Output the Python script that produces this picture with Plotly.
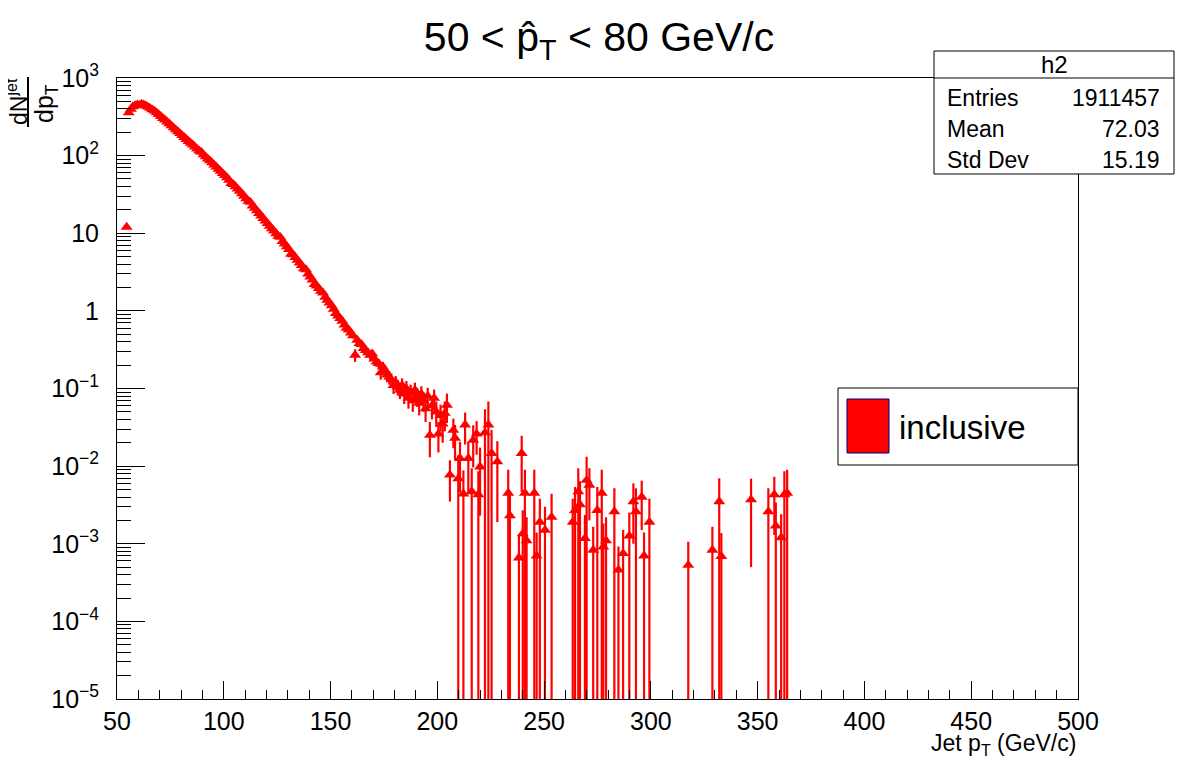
import plotly.graph_objects as go

# ---------------- data ----------------
BIN_LO = 50.0
BIN_W = 1.0

low_pt = [54.5]
low_val = [12.0]

core_first_bin = 5   # bin index of 55.5 GeV/c
core_val = [
    357, 398, 428, 441, 452, 447, 462, 451, 438, 424,        # 55.5-64.5
    409, 391, 376, 358, 339, 321, 303, 288, 272, 258,        # 65.5-74.5
    243, 229, 216, 204, 193, 182, 172, 162, 153, 145,        # 75.5-84.5
    138, 130, 122, 115, 111, 103, 97, 91, 86, 81,            # 85.5-94.5
    76, 71.5, 67, 63, 59, 55.5, 52, 48.5, 44.0, 42.5,        # 95.5-104.5
    40, 37.2, 34.8, 32.3, 30.1, 28.0, 26.0, 25.1, 22.6, 21.0,  # 105.5-114.5
    19.5, 18.1, 16.8, 15.6, 14.4, 13.4, 12.4, 11.5, 10.7, 9.9,  # 115.5-124.5
    9.2, 8.9, 7.85, 7.3, 6.75, 6.2, 5.4, 5.3, 4.9, 4.5,      # 125.5-134.5
    4.15, 3.85, 3.5, 3.4, 3.0, 2.75, 2.5, 2.2, 2.1, 1.95,    # 135.5-144.5
    1.8, 1.7, 1.5, 1.38, 1.27, 1.17,                          # 145.5-150.5
]

mid_first_bin = 101  # bin index of 151.5 GeV/c
mid_val = [
    1.05, 0.93, 0.86, 0.80, 0.74, 0.66, 0.60, 0.57, 0.52, 0.48,
    0.27, 0.42, 0.38, 0.37, 0.33, 0.31, 0.29, 0.27, 0.28, 0.24,
    0.22, 0.21, 0.16, 0.19, 0.17, 0.15, 0.14, 0.13, 0.11, 0.12,
    0.105, 0.095, 0.11, 0.085, 0.10, 0.075, 0.09, 0.07, 0.095, 0.08,
    0.065, 0.085, 0.07, 0.055, 0.08, 0.025, 0.06, 0.075, 0.05, 0.026,
    0.045, 0.035, 0.048, 0.061,
]
mid_err = [
    0.06, 0.055, 0.05, 0.05, 0.05, 0.045, 0.045, 0.045, 0.04, 0.04,
    0.05, 0.04, 0.04, 0.04, 0.035, 0.035, 0.035, 0.035, 0.035, 0.03,
    0.03, 0.03, 0.03, 0.03, 0.03, 0.028, 0.028, 0.027, 0.025, 0.025,
    0.024, 0.022, 0.025, 0.022, 0.025, 0.02, 0.022, 0.02, 0.024, 0.022,
    0.02, 0.022, 0.02, 0.018, 0.022, 0.012, 0.02, 0.022, 0.018, 0.011,
    0.017, 0.015, 0.02, 0.025,
]

tail_pt = [
    205.9, 207.5, 208.3, 209.8, 210.6, 212.2, 213.0, 214.5, 216.1, 216.8,
    218.4, 219.2, 220.0, 222.3, 223.9, 225.4, 228.1, 233.2, 234.0, 238.2,
    239.5, 240.0, 241.0, 241.8, 245.4, 246.5, 248.0, 250.4, 253.5, 263.4,
    264.5, 266.0, 266.8, 269.1, 269.9, 271.2, 273.0, 274.9, 277.0, 277.7,
    279.0, 282.9, 284.8, 287.0, 289.9, 291.8, 293.0, 295.7, 296.8, 299.3,
    317.5, 328.8, 332.0, 333.0, 346.9, 355.0, 357.8, 358.5, 361.0, 362.5,
    363.8,
]
tail_val = [
    0.0077, 0.029, 0.023, 0.0069, 0.0126, 0.0044, 0.034, 0.0126, 0.0047, 0.0216,
    0.026, 0.0043, 0.0098, 0.027, 0.034, 0.0146, 0.0114, 0.0045, 0.0023, 0.00066,
    0.0146, 0.00135, 0.0045, 0.0011, 0.0045, 0.0007, 0.0019, 0.0015, 0.0022, 0.0019,
    0.0027, 0.0047, 0.0032, 0.00117, 0.0066, 0.0057, 0.00083, 0.0027, 0.0045, 0.00091,
    0.0011, 0.0026, 0.00046, 0.00075, 0.00126, 0.0035, 0.0026, 0.004, 0.0007, 0.0019,
    0.00053, 0.00083, 0.0035, 0.00069, 0.0037, 0.0026, 0.0043, 0.0017, 0.0012, 0.0043,
    0.0045,
]
tail_err = [
    0.0042, 0.012, 0.011, 0.0069, 0.008, 0.0044, 0.015, 0.008, 0.0047, 0.012,
    0.012, 0.0043, 0.0075, 0.027, 0.034, 0.0146, 0.0095, 0.0045, 0.0023, 0.00066,
    0.01, 0.00135, 0.0045, 0.0011, 0.0045, 0.0007, 0.0019, 0.0015, 0.0022, 0.0019,
    0.0027, 0.0047, 0.0032, 0.00117, 0.0066, 0.0037, 0.00083, 0.0027, 0.0045, 0.00091,
    0.0011, 0.0026, 0.00046, 0.00075, 0.00126, 0.0025, 0.0026, 0.0025, 0.0007, 0.0019,
    0.00053, 0.00083, 0.0035, 0.00069, 0.0032, 0.0026, 0.003, 0.0017, 0.0012, 0.0043,
    0.0045,
]

x_tickvals = [50, 100, 150, 200, 250, 300, 350, 400, 450, 500]
y_tickvals = [1e-5, 1e-4, 1e-3, 1e-2, 1e-1, 1, 10, 100, 1000]
y_ticktext = ["10<sup>\u22125</sup>", "10<sup>\u22124</sup>", "10<sup>\u22123</sup>",
              "10<sup>\u22122</sup>", "10<sup>\u22121</sup>", "1", "10",
              "10<sup>2</sup>", "10<sup>3</sup>"]

stats_name = "h2"
stats_labels = ["Entries", "Mean", "Std Dev"]
stats_values = ["1911457", "72.03", "15.19"]
legend_label = "inclusive"
title_text = "50 &lt; p\u0302<sub>T</sub> &lt; 80 GeV/c"
xaxis_title = "Jet p<sub>T</sub> (GeV/c)"

# ---------------- derived ----------------
core_pt = [BIN_LO + (core_first_bin + i + 0.5) * BIN_W for i in range(len(core_val))]
mid_pt = [BIN_LO + (mid_first_bin + i + 0.5) * BIN_W for i in range(len(mid_val))]

err_pt = mid_pt + tail_pt
err_val = mid_val + tail_val
err_up = mid_err + tail_err
err_dn = [min(e, v * 0.99999) for v, e in zip(err_val, err_up)]

y_minor = [m * 10 ** k for k in range(-5, 3) for m in range(2, 10)]

RED = "#ff0000"
FONT = "Liberation Sans, Arial, Helvetica, sans-serif"
marker = dict(symbol="triangle-up", size=10.5, color=RED, line=dict(width=0))

fig = go.Figure()
fig.add_trace(go.Scatter(x=low_pt + core_pt, y=low_val + core_val, mode="markers",
                         marker=marker, showlegend=False, name=legend_label))
fig.add_trace(go.Scatter(x=err_pt, y=err_val, mode="markers", marker=marker,
                         showlegend=False, name=legend_label,
                         error_y=dict(type="data", symmetric=False, array=err_up,
                                      arrayminus=err_dn, color=RED, thickness=2.2, width=0)))

# page body has an 8px margin: compensate so the plot lands on the target pixels
OFF = 8
W, H = 1198, 776
L, R, T, B = 117, 120, 78, 77          # target plot-area box in window pixels
pw, ph = W - L - R, H - T - B

def px(xp):
    return (xp - L) / pw

def py(yp):
    return (H - B - yp) / ph

shapes = [
    # stats box
    dict(type="rect", xref="paper", yref="paper", x0=px(934), x1=px(1174), y0=py(174), y1=py(51),
         line=dict(color="black", width=1), fillcolor="white", layer="above"),
    dict(type="line", xref="paper", yref="paper", x0=px(934), x1=px(1174), y0=py(78), y1=py(78),
         line=dict(color="black", width=1), layer="above"),
    # legend box
    dict(type="rect", xref="paper", yref="paper", x0=px(838), x1=px(1078), y0=py(465), y1=py(388),
         line=dict(color="black", width=1), fillcolor="white", layer="above"),
    dict(type="rect", xref="paper", yref="paper", x0=px(847), x1=px(889), y0=py(453), y1=py(399),
         line=dict(color="#000080", width=1), fillcolor=RED, layer="above"),
    # y-title fraction bar
    dict(type="line", xref="paper", yref="paper", x0=px(28), x1=px(28), y0=py(127), y1=py(77),
         line=dict(color="black", width=2), layer="above"),
]

annotations = [
    dict(text=stats_name, x=px(1054), y=py(65), xref="paper", yref="paper", showarrow=False,
         font=dict(size=24, family=FONT, color="black"), xanchor="center", yanchor="middle"),
    dict(text=legend_label, x=px(897), y=py(427), xref="paper", yref="paper", showarrow=False,
         font=dict(size=33, family=FONT, color="black"), xanchor="left", yanchor="middle"),
    dict(text="dN<sup>jet</sup>", x=px(17), y=py(102), xref="paper", yref="paper", showarrow=False,
         textangle=-90, font=dict(size=23, family=FONT, color="black"),
         xanchor="center", yanchor="middle"),
    dict(text="dp<sub>T</sub>", x=px(46), y=py(104), xref="paper", yref="paper", showarrow=False,
         textangle=-90, font=dict(size=25, family=FONT, color="black"),
         xanchor="center", yanchor="middle"),
    dict(text=xaxis_title, x=1.0, y=py(745), xref="paper", yref="paper", showarrow=False,
         font=dict(size=23, family=FONT, color="black"), xanchor="right", yanchor="middle"),
]
row_y = [98, 129, 160]
for lab, val, yy in zip(stats_labels, stats_values, row_y):
    annotations.append(dict(text=lab, x=px(945), y=py(yy), xref="paper", yref="paper",
                            showarrow=False, font=dict(size=23, family=FONT, color="black"),
                            xanchor="left", yanchor="middle"))
    annotations.append(dict(text=val, x=px(1162), y=py(yy), xref="paper", yref="paper",
                            showarrow=False, font=dict(size=23, family=FONT, color="black"),
                            xanchor="right", yanchor="middle"))

fig.update_layout(
    width=W - OFF, height=H - OFF,
    margin=dict(l=L - OFF, r=R, t=T - OFF, b=B, pad=0),
    paper_bgcolor="white", plot_bgcolor="white",
    font=dict(family=FONT, color="black"),
    title=dict(text=title_text, x=(W / 2 - OFF) / (W - OFF), xanchor="center",
               y=1 - (37 - OFF) / (H - OFF), yanchor="middle",
               font=dict(size=41, family=FONT, color="black")),
    showlegend=False,
    shapes=shapes,
    annotations=annotations,
    xaxis=dict(range=[50, 500], showgrid=False, zeroline=False, showline=True, mirror=True,
               linecolor="black", linewidth=1,
               tickmode="array", tickvals=x_tickvals, ticks="inside", ticklen=18,
               tickcolor="black", tickwidth=1,
               tickfont=dict(size=25, family=FONT, color="black"),
               minor=dict(dtick=10, tick0=50, ticks="inside", ticklen=9, tickcolor="black",
                          tickwidth=1, showgrid=False)),
    yaxis=dict(type="log", range=[-5, 3], showgrid=False, zeroline=False, showline=True,
               mirror=True, linecolor="black", linewidth=1,
               tickmode="array", tickvals=y_tickvals, ticktext=y_ticktext,
               ticks="inside", ticklen=28, tickcolor="black", tickwidth=1,
               ticklabelstandoff=12,
               tickfont=dict(size=25, family=FONT, color="black"),
               minor=dict(tickmode="array", tickvals=y_minor, ticks="inside", ticklen=14,
                          tickcolor="black", tickwidth=1, showgrid=False)),
)

fig.write_html("out.html")
